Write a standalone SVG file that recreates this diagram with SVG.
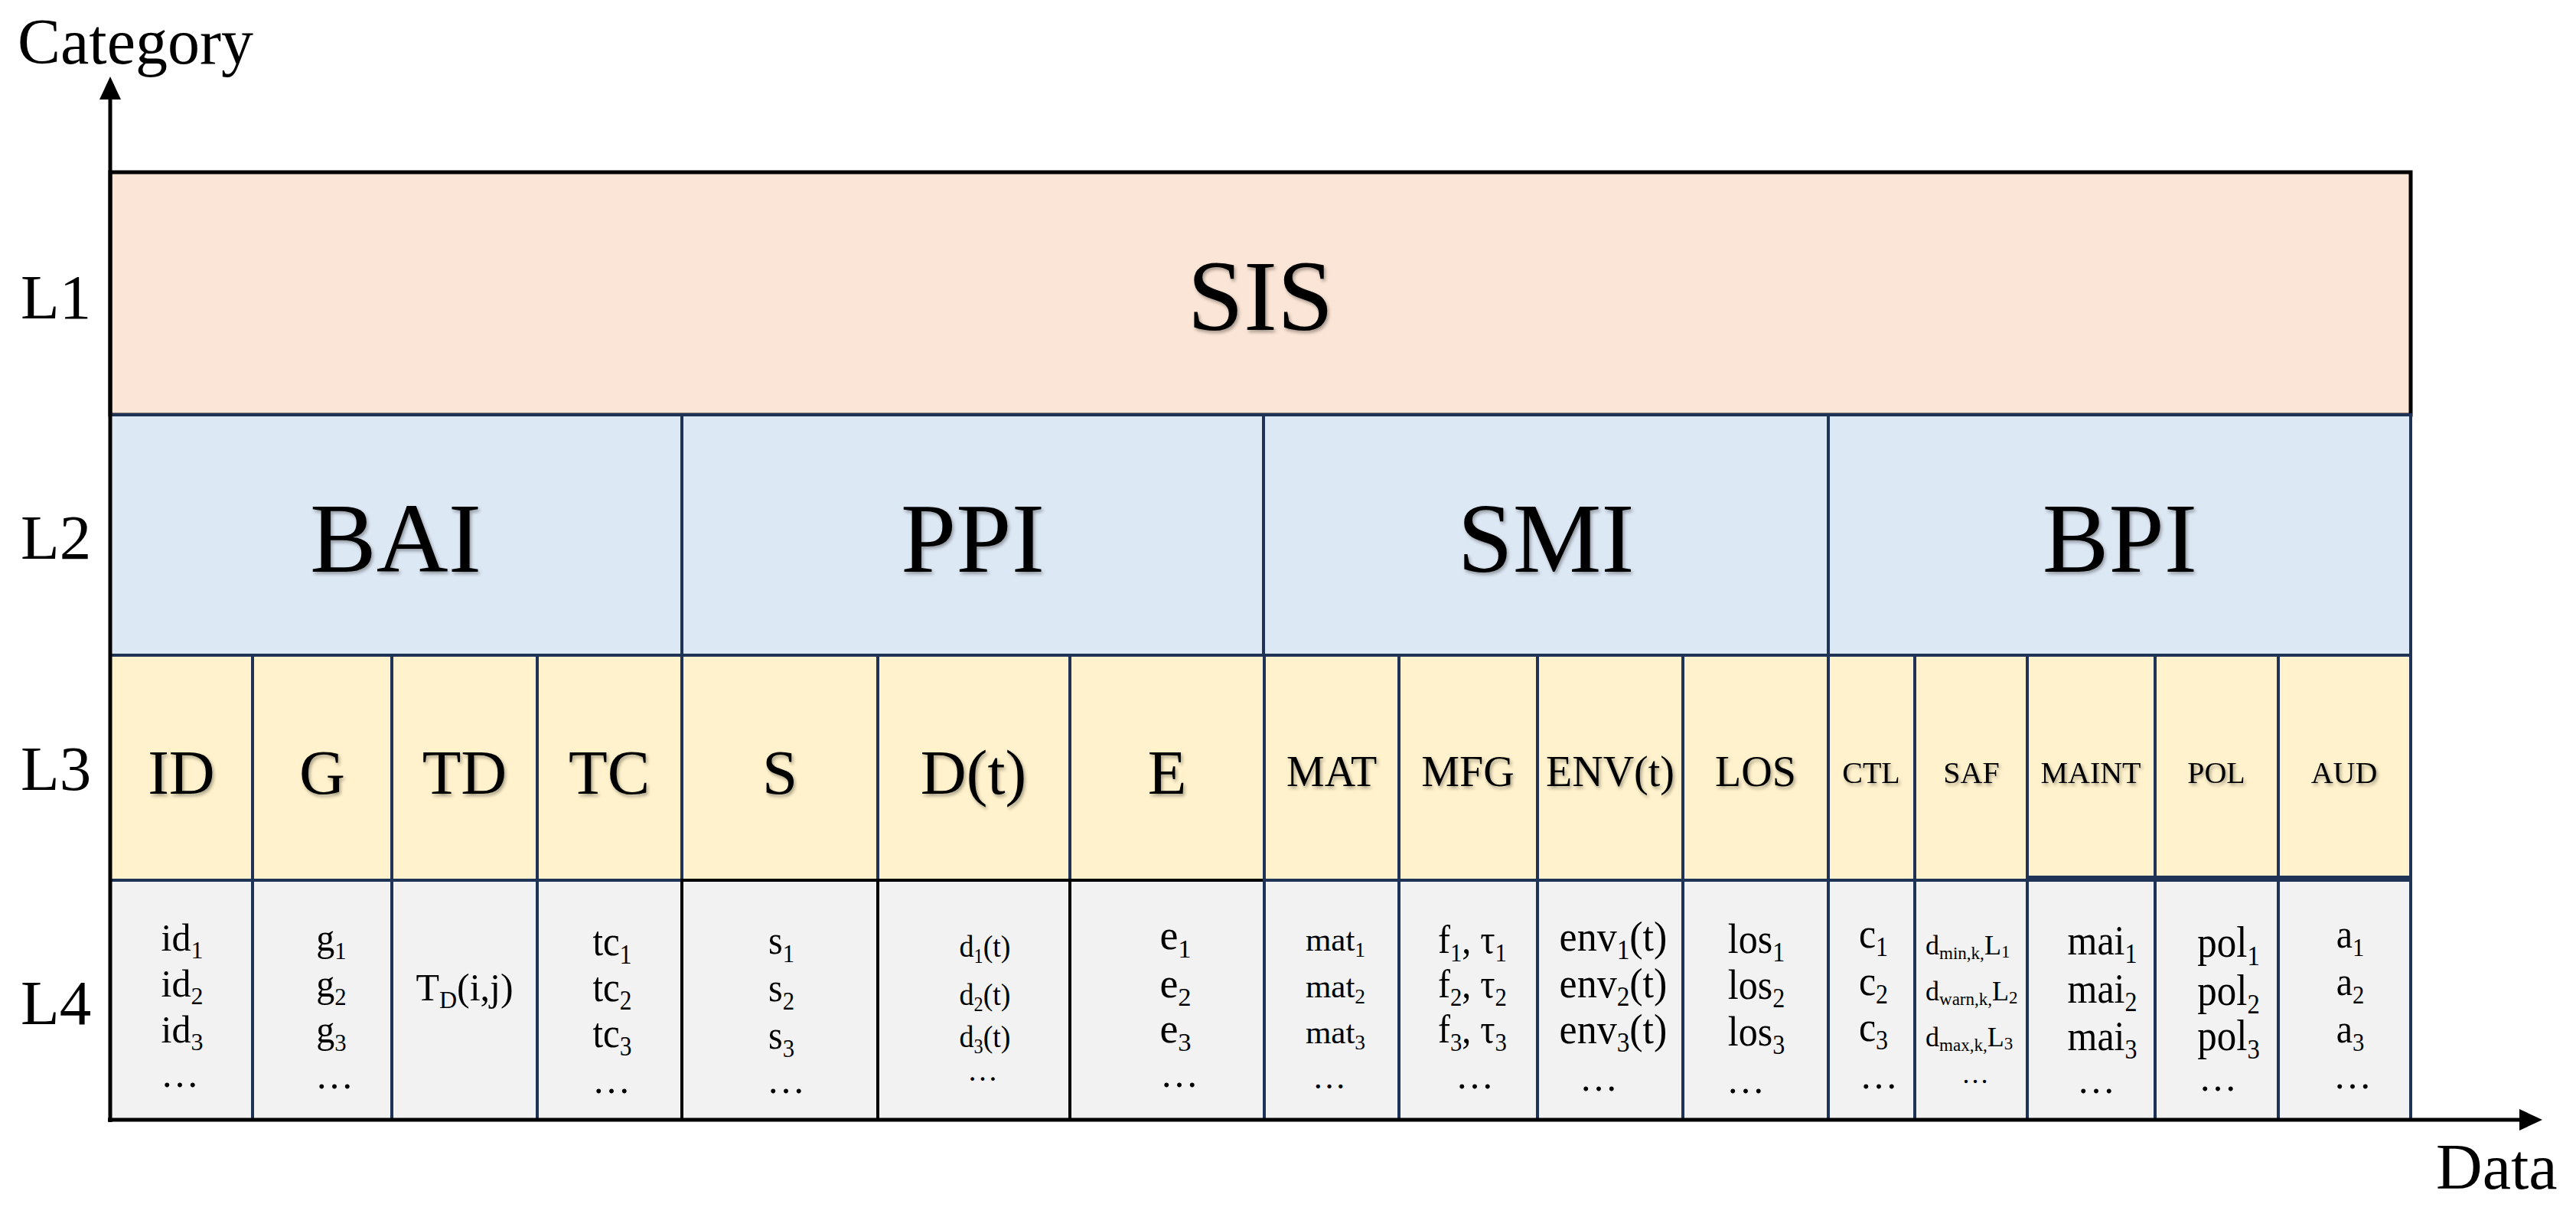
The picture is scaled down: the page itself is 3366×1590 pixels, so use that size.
<svg xmlns="http://www.w3.org/2000/svg" width="3366" height="1590" viewBox="0 0 3366 1590">
<style>
text{font-family:"Liberation Serif","Times New Roman",serif;fill:#000}
.c{text-anchor:middle}
.sh{filter:url(#sh)}
.cell{stroke:#1F3356;stroke-width:4}
.blk{stroke:#000;stroke-width:4}
.l1{fill:#FBE5D6}
.l2{fill:#DDE8F5}
.l3{fill:#FFF2CC}
.l4{fill:#F2F2F2}
.s{font-size:0.64em}
.ax{stroke:#000;stroke-width:5;fill:none}
</style>
<defs>
<filter id="sh" x="-10%" y="-20%" width="130%" height="150%">
<feDropShadow dx="2" dy="3" stdDeviation="2" flood-color="#000" flood-opacity="0.35"/>
</filter>
<marker id="arr" viewBox="0 0 30 28" markerWidth="30" markerHeight="28" refX="0" refY="14" orient="auto" markerUnits="userSpaceOnUse">
<path d="M0,0 L30,14 L0,28 z" fill="#000"/>
</marker>
</defs>
<rect width="3366" height="1590" fill="#fff"/>

<g id="axis-labels">
<text x="23" y="83" font-size="84">Category</text>
<text x="3183" y="1553" font-size="84">Data</text>
<text x="27" y="416" font-size="83">L1</text>
<text x="27" y="730" font-size="83">L2</text>
<text x="27" y="1032" font-size="83">L3</text>
<text x="27" y="1338" font-size="83">L4</text>
</g>

<g id="L1-SIS">
<rect class="l1" x="144" y="225" width="3006" height="317" stroke="#000" stroke-width="5"/>
<text class="c sh" x="1647" y="431" font-size="132">SIS</text>
</g>

<g id="L2">
<g id="BAI"><rect class="l2 cell" x="144" y="542" width="747" height="314"/><text class="c sh" x="517" y="747" font-size="130">BAI</text></g>
<g id="PPI"><rect class="l2 cell" x="891" y="542" width="760" height="314"/><text class="c sh" x="1271" y="747" font-size="130">PPI</text></g>
<g id="SMI"><rect class="l2 cell" x="1651" y="542" width="738" height="314"/><text class="c sh" x="2020" y="747" font-size="130">SMI</text></g>
<g id="BPI"><rect class="l2 cell" x="2389" y="542" width="761" height="314"/><text class="c sh" x="2770" y="747" font-size="130">BPI</text></g>
</g>

<g id="L3">
<g id="ID"><rect class="l3 cell" x="144" y="856" width="186" height="294"/><text class="c sh" x="237" y="1037" font-size="83">ID</text></g>
<g id="G"><rect class="l3 cell" x="330" y="856" width="182" height="294"/><text class="c sh" x="421" y="1037" font-size="83">G</text></g>
<g id="TD"><rect class="l3 cell" x="512" y="856" width="190" height="294"/><text class="c sh" x="607" y="1037" font-size="83">TD</text></g>
<g id="TC"><rect class="l3 cell" x="702" y="856" width="189" height="294"/><text class="c sh" x="796" y="1037" font-size="83">TC</text></g>
<g id="S"><rect class="l3 cell" x="891" y="856" width="256" height="294"/><text class="c sh" x="1019" y="1037" font-size="83">S</text></g>
<g id="Dt"><rect class="l3 cell" x="1147" y="856" width="251" height="294"/><text class="c sh" x="1272" y="1037" font-size="83">D(t)</text></g>
<g id="E"><rect class="l3 cell" x="1398" y="856" width="254" height="294"/><text class="c sh" x="1525" y="1037" font-size="83">E</text></g>
<g id="MAT"><rect class="l3 cell" x="1652" y="856" width="176" height="294"/><text class="c sh" x="1740" y="1027" font-size="56">MAT</text></g>
<g id="MFG"><rect class="l3 cell" x="1828" y="856" width="181" height="294"/><text class="c sh" x="1918" y="1027" font-size="56">MFG</text></g>
<g id="ENVt"><rect class="l3 cell" x="2009" y="856" width="190" height="294"/><text class="c sh" x="2104" y="1027" font-size="56">ENV(t)</text></g>
<g id="LOS"><rect class="l3 cell" x="2199" y="856" width="190" height="294"/><text class="c sh" x="2294" y="1027" font-size="56">LOS</text></g>
<g id="CTL"><rect class="l3 cell" x="2389" y="856" width="113" height="294"/><text class="c sh" x="2445" y="1023" font-size="40">CTL</text></g>
<g id="SAF"><rect class="l3 cell" x="2502" y="856" width="147" height="294"/><text class="c sh" x="2576" y="1023" font-size="40">SAF</text></g>
<g id="MAINT"><rect class="l3 cell" x="2649" y="856" width="167" height="290"/><text class="c sh" x="2732" y="1023" font-size="40">MAINT</text></g>
<g id="POL"><rect class="l3 cell" x="2816" y="856" width="161" height="290"/><text class="c sh" x="2896" y="1023" font-size="40">POL</text></g>
<g id="AUD"><rect class="l3 cell" x="2977" y="856" width="173" height="290"/><text class="c sh" x="3063" y="1023" font-size="40">AUD</text></g>
</g>

<g id="L4">
<g id="id-data"><rect class="l4 cell" x="144" y="1150" width="186" height="313"/>
<text class="c" font-size="50" transform="translate(238,1242)">id<tspan class="s" dy="10">1</tspan></text>
<text class="c" font-size="50" transform="translate(238,1302)">id<tspan class="s" dy="10">2</tspan></text>
<text class="c" font-size="50" transform="translate(238,1362)">id<tspan class="s" dy="10">3</tspan></text>
<text class="c" font-size="50" transform="translate(235,1420)">…</text>
</g>
<g id="g-data"><rect class="l4 cell" x="330" y="1150" width="182" height="313"/>
<text class="c" font-size="48" transform="translate(433,1242) scale(1,1.05)">g<tspan class="s" dy="10">1</tspan></text>
<text class="c" font-size="48" transform="translate(433,1302) scale(1,1.05)">g<tspan class="s" dy="10">2</tspan></text>
<text class="c" font-size="48" transform="translate(433,1362) scale(1,1.05)">g<tspan class="s" dy="10">3</tspan></text>
<text class="c" font-size="50" transform="translate(437,1422)">…</text>
</g>
<g id="td-data"><rect class="l4 cell" x="512" y="1150" width="190" height="313"/>
<text class="c" font-size="50" transform="translate(607,1307)">T<tspan class="s" dy="10">D</tspan><tspan dy="-10">(i,j)</tspan></text>
</g>
<g id="tc-data"><rect class="l4 cell" x="702" y="1150" width="189" height="313"/>
<text class="c" font-size="49" transform="translate(800,1248) scale(1,1.12)">tc<tspan class="s" dy="10">1</tspan></text>
<text class="c" font-size="49" transform="translate(800,1308) scale(1,1.12)">tc<tspan class="s" dy="10">2</tspan></text>
<text class="c" font-size="49" transform="translate(800,1368) scale(1,1.12)">tc<tspan class="s" dy="10">3</tspan></text>
<text class="c" font-size="50" transform="translate(799,1428)">…</text>
</g>
<g id="s-data"><rect class="l4 blk" style="fill:#F2F2F2" x="891" y="1150" width="256" height="313"/>
<text class="c" font-size="48" transform="translate(1021,1246) scale(1,1.12)">s<tspan class="s" dy="10">1</tspan></text>
<text class="c" font-size="48" transform="translate(1021,1308) scale(1,1.12)">s<tspan class="s" dy="10">2</tspan></text>
<text class="c" font-size="48" transform="translate(1021,1370) scale(1,1.12)">s<tspan class="s" dy="10">3</tspan></text>
<text class="c" font-size="50" transform="translate(1027,1428)">…</text>
</g>
<g id="dt-data"><rect class="l4 blk" style="fill:#F2F2F2" x="1147" y="1150" width="251" height="313"/>
<text class="c" font-size="38" transform="translate(1287,1250) scale(1,1.08)">d<tspan class="s" dy="7">1</tspan><tspan dy="-7">(t)</tspan></text>
<text class="c" font-size="38" transform="translate(1287,1313) scale(1,1.08)">d<tspan class="s" dy="7">2</tspan><tspan dy="-7">(t)</tspan></text>
<text class="c" font-size="38" transform="translate(1287,1368) scale(1,1.08)">d<tspan class="s" dy="7">3</tspan><tspan dy="-7">(t)</tspan></text>
<text class="c" font-size="40" transform="translate(1284,1412)">…</text>
</g>
<g id="e-data"><rect class="l4 blk" style="fill:#F2F2F2" x="1398" y="1150" width="254" height="313"/>
<text class="c" font-size="54" transform="translate(1536,1240)">e<tspan class="s" dy="11">1</tspan></text>
<text class="c" font-size="54" transform="translate(1536,1303)">e<tspan class="s" dy="11">2</tspan></text>
<text class="c" font-size="54" transform="translate(1536,1362)">e<tspan class="s" dy="11">3</tspan></text>
<text class="c" font-size="50" transform="translate(1541,1420)">…</text>
</g>
<g id="mat-data"><rect class="l4 cell" x="1652" y="1150" width="176" height="313"/>
<text class="c" font-size="43" transform="translate(1745,1242)">mat<tspan class="s" dy="8">1</tspan></text>
<text class="c" font-size="43" transform="translate(1745,1303)">mat<tspan class="s" dy="8">2</tspan></text>
<text class="c" font-size="43" transform="translate(1745,1363)">mat<tspan class="s" dy="8">3</tspan></text>
<text class="c" font-size="44" transform="translate(1737,1422)">…</text>
</g>
<g id="f-data"><rect class="l4 cell" x="1828" y="1150" width="181" height="313"/>
<text class="c" font-size="48" transform="translate(1924,1245) scale(1,1.1)">f<tspan class="s" dy="10">1</tspan><tspan dy="-10">, τ</tspan><tspan class="s" dy="10">1</tspan></text>
<text class="c" font-size="48" transform="translate(1924,1303) scale(1,1.1)">f<tspan class="s" dy="10">2</tspan><tspan dy="-10">, τ</tspan><tspan class="s" dy="10">2</tspan></text>
<text class="c" font-size="48" transform="translate(1924,1362) scale(1,1.1)">f<tspan class="s" dy="10">3</tspan><tspan dy="-10">, τ</tspan><tspan class="s" dy="10">3</tspan></text>
<text class="c" font-size="50" transform="translate(1927,1422)">…</text>
</g>
<g id="env-data"><rect class="l4 cell" x="2009" y="1150" width="190" height="313"/>
<text class="c" font-size="52" transform="translate(2108,1242) scale(1,1.06)">env<tspan class="s" dy="10">1</tspan><tspan dy="-10">(t)</tspan></text>
<text class="c" font-size="52" transform="translate(2108,1303) scale(1,1.06)">env<tspan class="s" dy="10">2</tspan><tspan dy="-10">(t)</tspan></text>
<text class="c" font-size="52" transform="translate(2108,1363) scale(1,1.06)">env<tspan class="s" dy="10">3</tspan><tspan dy="-10">(t)</tspan></text>
<text class="c" font-size="50" transform="translate(2089,1425)">…</text>
</g>
<g id="los-data"><rect class="l4 cell" x="2199" y="1150" width="190" height="313"/>
<text class="c" font-size="50" transform="translate(2295,1245) scale(1,1.1)">los<tspan class="s" dy="10">1</tspan></text>
<text class="c" font-size="50" transform="translate(2295,1305) scale(1,1.1)">los<tspan class="s" dy="10">2</tspan></text>
<text class="c" font-size="50" transform="translate(2295,1366) scale(1,1.1)">los<tspan class="s" dy="10">3</tspan></text>
<text class="c" font-size="50" transform="translate(2281,1428)">…</text>
</g>
<g id="c-data"><rect class="l4 cell" x="2389" y="1150" width="113" height="313"/>
<text class="c" font-size="50" transform="translate(2448,1238) scale(1,1.1)">c<tspan class="s" dy="10">1</tspan></text>
<text class="c" font-size="50" transform="translate(2448,1300) scale(1,1.1)">c<tspan class="s" dy="10">2</tspan></text>
<text class="c" font-size="50" transform="translate(2448,1360) scale(1,1.1)">c<tspan class="s" dy="10">3</tspan></text>
<text class="c" font-size="50" transform="translate(2455,1422)">…</text>
</g>
<g id="saf-data"><rect class="l4 cell" x="2502" y="1150" width="147" height="313"/>
<text font-size="36" transform="translate(2516,1247)">d<tspan class="s" dy="6">min,k,</tspan><tspan dy="-6">L</tspan><tspan class="s" dy="4">1</tspan></text>
<text font-size="36" transform="translate(2516,1307)">d<tspan class="s" dy="6">warn,k,</tspan><tspan dy="-6">L</tspan><tspan class="s" dy="4">2</tspan></text>
<text font-size="36" transform="translate(2516,1367)">d<tspan class="s" dy="6">max,k,</tspan><tspan dy="-6">L</tspan><tspan class="s" dy="4">3</tspan></text>
<text class="c" font-size="36" transform="translate(2581,1415)">…</text>
</g>
<g id="mai-data"><rect class="l4 cell" x="2649" y="1150" width="167" height="313"/>
<text class="c" font-size="50" transform="translate(2747,1247) scale(1,1.1)">mai<tspan class="s" dy="10">1</tspan></text>
<text class="c" font-size="50" transform="translate(2747,1310) scale(1,1.1)">mai<tspan class="s" dy="10">2</tspan></text>
<text class="c" font-size="50" transform="translate(2747,1372) scale(1,1.1)">mai<tspan class="s" dy="10">3</tspan></text>
<text class="c" font-size="50" transform="translate(2739,1428)">…</text>
</g>
<g id="pol-data"><rect class="l4 cell" x="2816" y="1150" width="161" height="313"/>
<text class="c" font-size="51" transform="translate(2912,1250) scale(1,1.1)">pol<tspan class="s" dy="10">1</tspan></text>
<text class="c" font-size="51" transform="translate(2912,1313) scale(1,1.1)">pol<tspan class="s" dy="10">2</tspan></text>
<text class="c" font-size="51" transform="translate(2912,1372) scale(1,1.1)">pol<tspan class="s" dy="10">3</tspan></text>
<text class="c" font-size="50" transform="translate(2898,1425)">…</text>
</g>
<g id="a-data"><rect class="l4 cell" x="2977" y="1150" width="173" height="313"/>
<text class="c" font-size="48" transform="translate(3071,1238) scale(1,1.12)">a<tspan class="s" dy="10">1</tspan></text>
<text class="c" font-size="48" transform="translate(3071,1300) scale(1,1.12)">a<tspan class="s" dy="10">2</tspan></text>
<text class="c" font-size="48" transform="translate(3071,1362) scale(1,1.12)">a<tspan class="s" dy="10">3</tspan></text>
<text class="c" font-size="50" transform="translate(3074,1422)">…</text>
</g>
</g>

<g id="connectors">
<line class="ax" x1="144" y1="1466" x2="144" y2="130" marker-end="url(#arr)"/>
<line class="ax" x1="141" y1="1463" x2="3292" y2="1463" marker-end="url(#arr)"/>
</g>
</svg>
